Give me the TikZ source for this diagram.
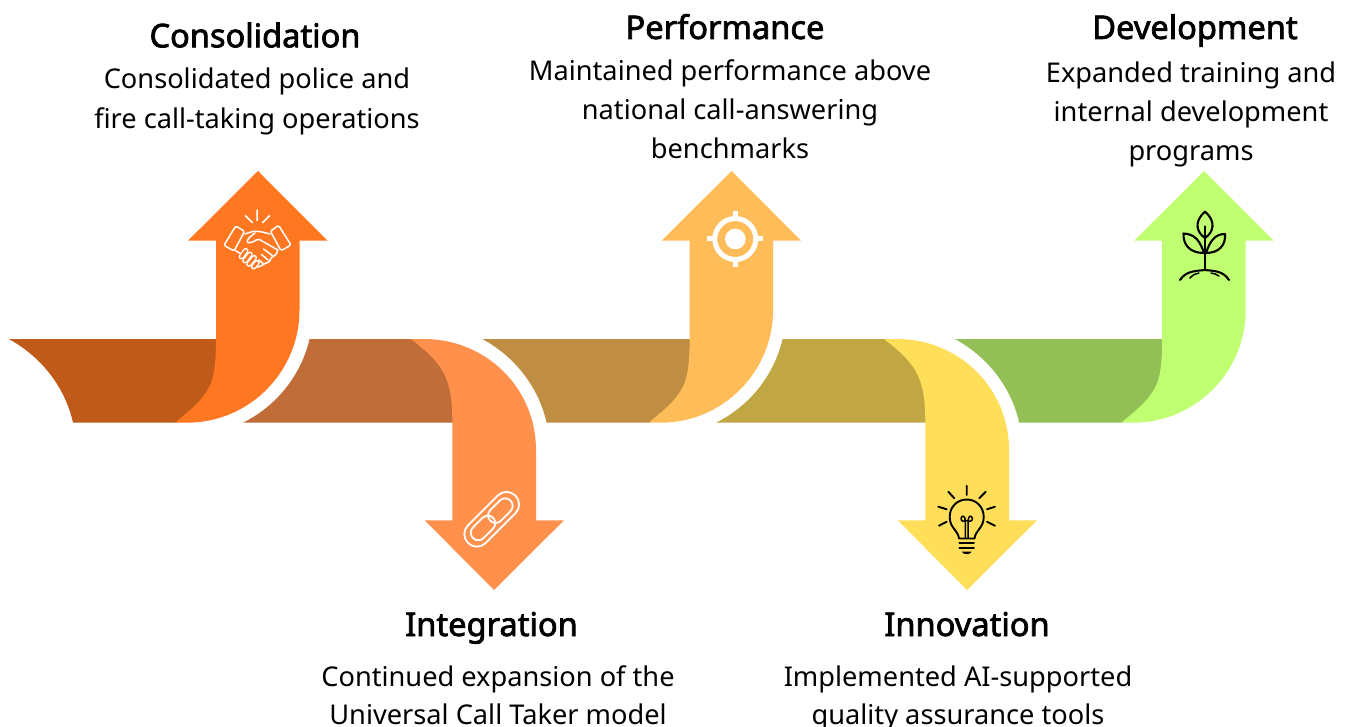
\documentclass[tikz,border=0pt]{standalone}
\usepackage{fontspec}
\setmainfont{Noto Sans}
\newfontfamily\titlefam[FakeBold=2.2]{Noto Sans}
\definecolor{aA}{HTML}{FF7720}\definecolor{bA}{HTML}{C05A18}
\definecolor{aB}{HTML}{FF914D}\definecolor{bB}{HTML}{C06D3A}
\definecolor{aC}{HTML}{FFBD59}\definecolor{bC}{HTML}{C08E43}
\definecolor{aD}{HTML}{FFDE59}\definecolor{bD}{HTML}{C0A743}
\definecolor{aE}{HTML}{C1FF72}\definecolor{bE}{HTML}{92C056}
\tikzset{
  titletext/.style={font=\titlefam\fontsize{32.6}{36}\selectfont,text=black,inner sep=0pt,anchor=base},
  bodytext/.style={font=\fontsize{27.2}{36}\selectfont,text=black,inner sep=0pt,anchor=base},
  iconw/.style={draw=white,line width=1.5pt,line cap=round,line join=round},
  iconk/.style={draw=black,line width=1.9pt,line cap=round,line join=round},
}
\newcommand{\upseg}[3]{%
 \begin{scope}[xshift=#1pt]
  \fill[#2] (8.7,339) -- (218,339) .. controls (218,357) and (217,372) .. (213,383) .. controls (206,400) and (191,411) .. (177,422.7) -- (73,422.7) .. controls (65.1,387) and (40.9,356.3) .. (8.7,339) -- cycle;
  \fill[#3] (258,171) -- (327.5,240.7) -- (299.5,240.7) -- (299.5,310) .. controls (299.5,372) and (249,422.7) .. (187,422.7) -- (175,422.7) .. controls (189,411) and (204,400) .. (211,383) .. controls (215,372) and (216,357) .. (216,339) -- (216,240.7) -- (188,240.7) -- cycle;
 \end{scope}}
\newcommand{\downseg}[3]{%
 \begin{scope}[xshift=#1pt]
  \fill[#2] (309.6,339) -- (413,339) .. controls (427,350) and (441,361) .. (448,378) .. controls (453,390) and (454.3,405) .. (454.3,422.7) -- (243,422.7) .. controls (276.6,406) and (301,375.5) .. (309.6,339) -- cycle;
  \fill[#3] (411,339) -- (424,339) .. controls (486,339) and (536,388) .. (536,450) -- (536,520.3) -- (564,520.3) -- (494,590) -- (424.7,520.3) -- (452.3,520.3) -- (452.3,422.7) .. controls (452.3,405) and (451,390) .. (446,378) .. controls (439,361) and (425,350) .. (411,339) -- cycle;
 \end{scope}}
\begin{document}
\begin{tikzpicture}[x=1pt,y=-1pt]
\useasboundingbox (0,0) rectangle (1349,727);
\fill[white] (0,0) rectangle (1349,727);
\upseg{0}{bA}{aA}
\downseg{0}{bB}{aB}
\upseg{473.6}{bC}{aC}
\downseg{473}{bD}{aD}
\upseg{946.2}{bE}{aE}
% handshake
\draw[iconw] (257,210) -- (257,220.7) (245.4,215.7) -- (252.5,222.7) (269.6,215.7) -- (262.5,222.7);
\draw[iconw,rounded corners=1.5pt] (235.7,226) -- (244.6,231.3) -- (234,251) -- (224,245.3) -- cycle;
\draw[iconw,rounded corners=1.5pt] (278.6,225.3) -- (291,245) -- (281,250.7) -- (270.4,231.3) -- cycle;
\draw[iconw,rounded corners=1.5pt] (245,234) -- (253,231.3) -- (260,231.5) -- (270,234);
\draw[iconw,rounded corners=2pt] (255,233) -- (248.2,238.3) -- (246.6,242.6) -- (252,242.7) -- (258,238.7) -- (277.8,250);
\draw[iconw,rounded corners=1.5pt] (277.8,250) -- (276,255) -- (271.5,257) -- (269.5,262) -- (264.5,263.5) -- (261.5,266) -- (255,267.5);
\draw[iconw] (263.5,249) -- (273,256) (261.5,254.5) -- (268,260) (259,260) -- (263.5,264);
\draw[iconw] (235.7,250.7) -- (240,253.3);
\foreach \a/\b/\c/\d/\n in {245.7/250.7/241.4/256.7/1,250/254.3/245/260.7/2,254.3/257.7/249/264/3,257/262.7/253.6/266.7/4}{
  \draw[white,line width=5.6pt,line cap=round] (\a,\b) -- (\c,\d);
  \draw[aA,line width=2.8pt,line cap=round] (\a,\b) -- (\c,\d);
}
% chain link
\begin{scope}[shift={(491.7,519.3)},rotate=45]
 \draw[iconw,line width=1.8pt,rounded corners=12.4pt] (-33.5,-12.5) rectangle (33.5,12.5);
 \draw[iconw,line width=1.8pt,rounded corners=7.4pt] (-2,-7.5) rectangle (26.5,7.5);
 \draw[iconw,line width=1.8pt,rounded corners=7.4pt] (-26.5,-7.5) rectangle (2,7.5);
\end{scope}
% target
\draw[white,line width=5pt] (735.3,239) circle[radius=20.5];
\fill[white] (735.3,239) circle[radius=10.3];
\draw[white,line width=5pt] (735.3,211) -- (735.3,220) (735.3,258) -- (735.3,267) (707.3,239) -- (716.3,239) (754.3,239) -- (763.3,239);
% bulb
\draw[iconk] (966.7,485.7) -- (966.7,495) (948.3,491.7) -- (954.3,498.3) (985.7,491.7) -- (979.3,498.3) (938.3,506.7) -- (946.7,509.3) (995,506.7) -- (987,509.3) (939,525.7) -- (946.7,521.7) (995,525.7) -- (987,521.7);
\draw[iconk] (959,538.5) .. controls (958,530) and (949.7,528) .. (949.7,517) .. controls (949.7,507) and (957,499.5) .. (966.7,499.5) .. controls (976.4,499.5) and (983.7,507) .. (983.7,517) .. controls (983.7,528) and (975.5,530) .. (974.5,538.5) -- cycle;
\draw[iconk,line width=1.5pt] (965.3,538) -- (965.3,521) .. controls (965.3,515) and (961.5,515) .. (961,518.5) .. controls (961,521.5) and (964,522) .. (966.7,520.5) .. controls (969.4,522) and (972.4,521.5) .. (972.4,518.5) .. controls (972,515) and (968.1,515) .. (968.1,521) -- (968.1,538);
\draw[iconk] (959.3,543.3) -- (974,543.3) (959.3,548.3) -- (974,548.3);
\fill[black] (961.7,551.5) -- (971.7,551.5) .. controls (971,555) and (962.4,555) .. (961.7,551.5) -- cycle;
% plant
\draw[iconk,line width=2.1pt] (1205,226.5) -- (1205,270);
\draw[iconk,line width=2.1pt] (1205,211.7) .. controls (1194,221) and (1196,232) .. (1205,238) .. controls (1214,232) and (1216,221) .. (1205,211.7) -- cycle;
\draw[iconk,line width=2.1pt] (1204,253) .. controls (1200,241) and (1195,234) .. (1183.5,233.5) .. controls (1183,245) and (1190,253) .. (1204,253) -- cycle;
\draw[iconk,line width=2.1pt] (1206,253) .. controls (1210,241) and (1215,234) .. (1225,234) .. controls (1226,245) and (1219,253) .. (1206,253) -- cycle;
\draw[iconk,line width=2.1pt] (1180,280) .. controls (1186,271) and (1195,271) .. (1205,270) .. controls (1215,271) and (1223,271) .. (1229,280);
\draw[iconk,line width=1.5pt] (1190,278) .. controls (1193,274.5) and (1196,273.5) .. (1199,273) (1211,273) .. controls (1214,273.5) and (1217,274.5) .. (1219,276);
% text
\node[titletext] (t1) at (255,47.3) {Consolidation};
\node[bodytext] (d1a) at (257,88.5) {Consolidated police and};
\node[bodytext] (d1b) at (257,128.5) {fire call-taking operations};
\node[titletext] (t3) at (725,39) {Performance};
\node[bodytext] (d3a) at (730,80.5) {Maintained performance above};
\node[bodytext] (d3b) at (730,119.5) {national call-answering};
\node[bodytext] (d3c) at (730,158.5) {benchmarks};
\node[titletext] (t5) at (1195,39) {Development};
\node[bodytext] (d5a) at (1191,82.5) {Expanded training and};
\node[bodytext] (d5b) at (1191,121.5) {internal development};
\node[bodytext] (d5c) at (1191,160.5) {programs};
\node[titletext] (t2) at (491.5,636) {Integration};
\node[bodytext] (d2a) at (498,686) {Continued expansion of the};
\node[bodytext] (d2b) at (498,724) {Universal Call Taker model};
\node[titletext] (t4) at (967,636) {Innovation};
\node[bodytext] (d4a) at (958,686) {Implemented AI-supported};
\node[bodytext] (d4b) at (958,724) {quality assurance tools};
\end{tikzpicture}
\end{document}
